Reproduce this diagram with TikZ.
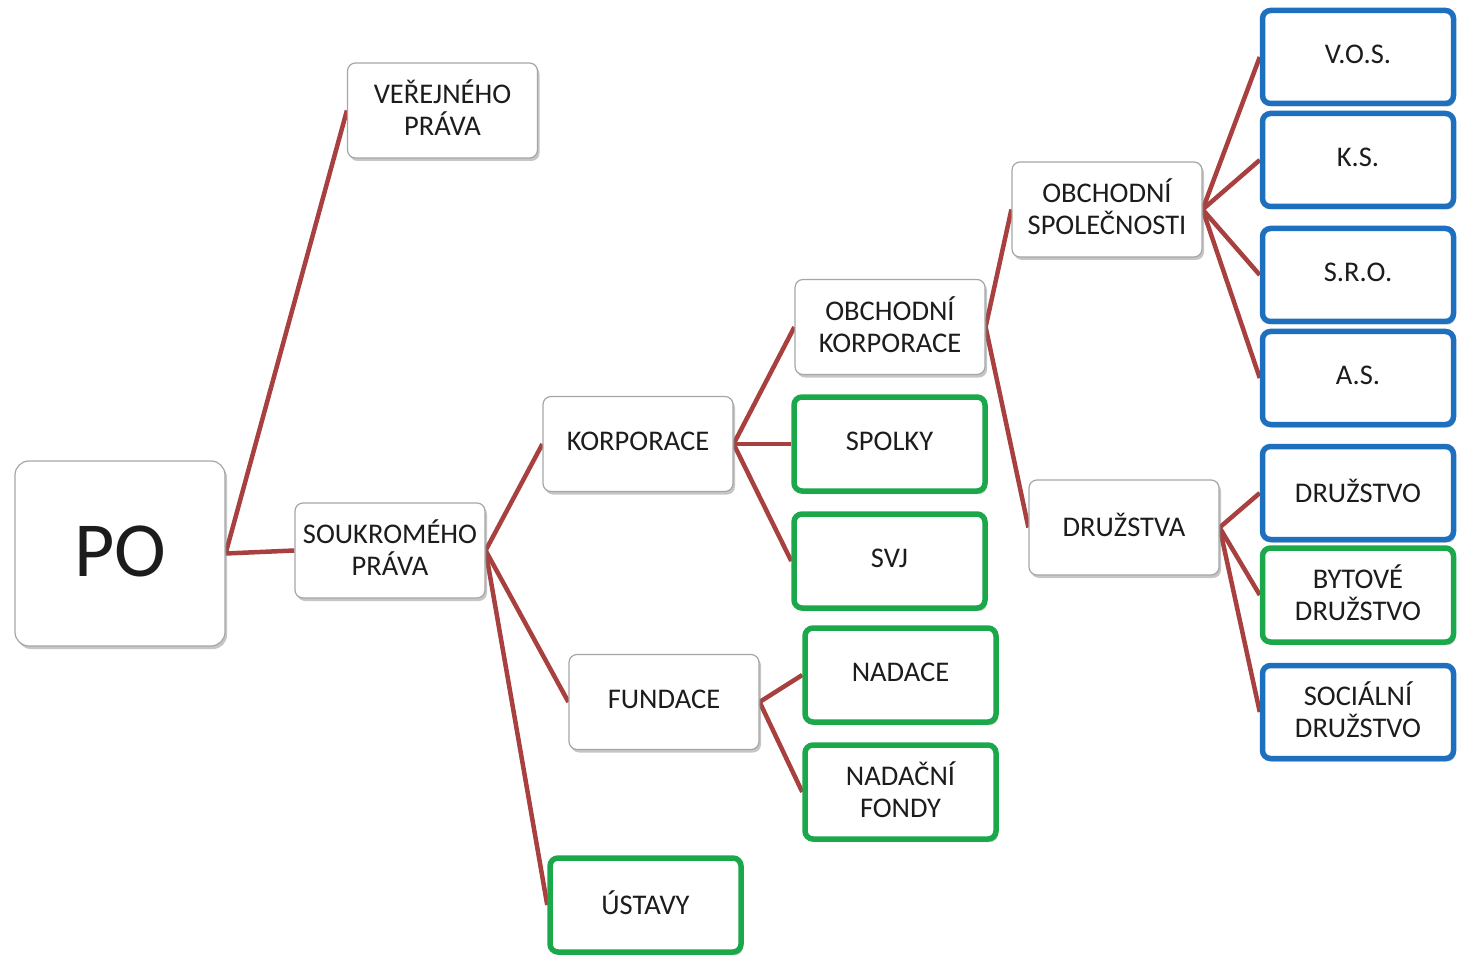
\documentclass[tikz,border=0pt]{standalone}
\usepackage{fontspec}
\setmainfont{Carlito}
\usetikzlibrary{shadows}
\usetikzlibrary{backgrounds}
\definecolor{linkred}{HTML}{A8403F}
\definecolor{boxgreen}{HTML}{1BA84B}
\definecolor{boxblue}{HTML}{1F6FBF}
\definecolor{txt}{HTML}{1C1C1C}
\tikzset{
  box/.style={draw=gray!70, line width=1.2pt, fill=white, rounded corners=8pt,
    minimum width=190pt, minimum height=95pt, inner sep=0pt, align=center,
    text=txt, text depth=5pt, font=\fontsize{28.5}{32}\selectfont,
    drop shadow={shadow xshift=2pt, shadow yshift=-3pt, opacity=0.45}},
  greenbox/.style={box, draw=boxgreen, line width=5.5pt, minimum width=191pt, minimum height=94pt},
  bluebox/.style={box, draw=boxblue, line width=5.5pt, minimum width=191pt, minimum height=93pt},
  link/.style={draw=linkred, line width=4.5pt},
}

\begin{document}
\begin{tikzpicture}[x=1pt, y=-1pt]
\useasboundingbox (0,0) rectangle (1458,957);
\node (PO) [box, minimum width=210pt, minimum height=185pt, rounded corners=14pt,
  font=\fontsize{78}{90}\selectfont] at (120,553.5) {PO};
\node (VP) [box] at (442.5,110.5) {VEŘEJNÉHO\\PRÁVA};
\node (SP) [box] at (390,550.5) {SOUKROMÉHO\\PRÁVA};
\node (K) [box] at (638,444) {KORPORACE};
\node (F) [box] at (664,702) {FUNDACE};
\node (U) [greenbox] at (645.5,905) {ÚSTAVY};
\node (OK) [box] at (890,327) {OBCHODNÍ\\KORPORACE};
\node (SPO) [greenbox] at (889.5,444) {SPOLKY};
\node (SVJ) [greenbox] at (889.5,561) {SVJ};
\node (N) [greenbox] at (900.5,675) {NADACE};
\node (NF) [greenbox] at (900.5,792) {NADAČNÍ\\FONDY};
\node (OS) [box] at (1107,209.5) {OBCHODNÍ\\SPOLEČNOSTI};
\node (D) [box] at (1124,527.5) {DRUŽSTVA};
\node (VOS) [bluebox] at (1358,57) {V.O.S.};
\node (KS) [bluebox] at (1358,160) {K.S.};
\node (SRO) [bluebox] at (1358,275) {S.R.O.};
\node (AS) [bluebox] at (1358,378) {A.S.};
\node (D1) [bluebox] at (1358,493) {DRUŽSTVO};
\node (D2) [greenbox] at (1358,595) {BYTOVÉ\\DRUŽSTVO};
\node (D3) [bluebox] at (1358,712) {SOCIÁLNÍ\\DRUŽSTVO};

\begin{scope}[on background layer]
\path [link] (PO.east) -- (VP.west);
\path [link] (PO.east) -- (SP.west);
\foreach \c in {K, F, U}
  \path [link] (SP.east) -- (\c.west);
\foreach \c in {OK, SPO, SVJ}
  \path [link] (K.east) -- (\c.west);
\path [link] (F.east) -- (N.west);
\path [link] (F.east) -- (NF.west);
\path [link] (OK.east) -- (OS.west);
\path [link] (OK.east) -- (D.west);
\foreach \c in {VOS, KS, SRO, AS}
  \path [link] (OS.east) -- (\c.west);
\foreach \c in {D1, D2, D3}
  \path [link] (D.east) -- (\c.west);
\end{scope}
\end{tikzpicture}
\end{document}
